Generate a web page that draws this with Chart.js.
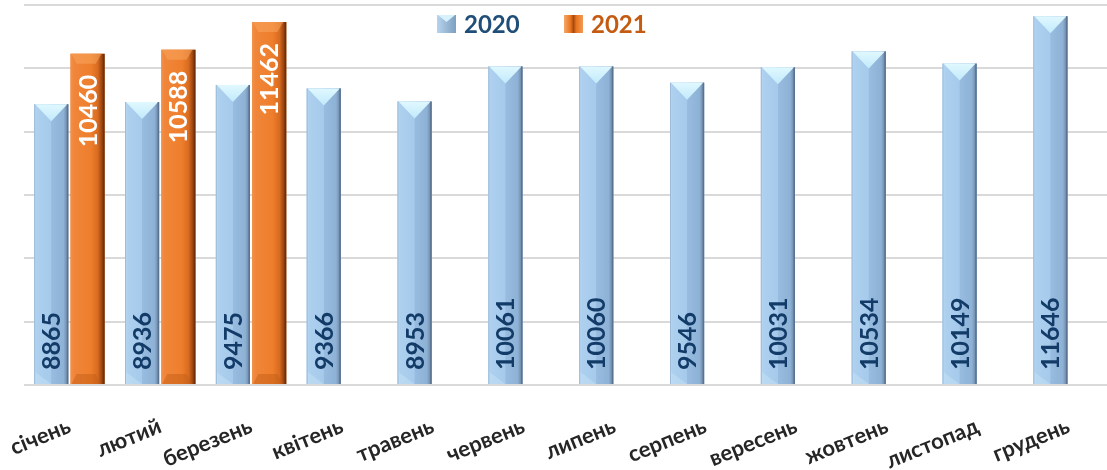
<!DOCTYPE html>
<html>
<head>
<meta charset="utf-8">
<script src="https://cdn.jsdelivr.net/npm/chart.js@4.4.1/dist/chart.umd.min.js"></script>
<style>
  html, body { margin: 0; padding: 0; background: #ffffff; overflow: hidden; }
  #wrap { position: relative; width: 1114px; height: 470px; }
</style>
</head>
<body>
<div id="wrap"><canvas id="c"></canvas></div>
<script>
const months = ['січень','лютий','березень','квітень','травень','червень','липень','серпень','вересень','жовтень','листопад','грудень'];
const series2020 = [8865, 8936, 9475, 9366, 8953, 10061, 10060, 9546, 10031, 10534, 10149, 11646];
const series2021 = [10460, 10588, 11462, null, null, null, null, null, null, null, null, null];
const seriesNames = ['2020', '2021'];
const yTicks = [0, 2000, 4000, 6000, 8000, 10000, 12000];

const FONT = 'Lato, "Open Sans", "DejaVu Sans", sans-serif';

function drawBlueBar(ctx, x0, x1, top, bottom) {
  const w = x1 - x0, cx = (x0 + x1) / 2;
  const g = ctx.createLinearGradient(x0, 0, x1, 0);
  g.addColorStop(0, '#BBD8F2');
  g.addColorStop(0.08, '#ADD0EF');
  g.addColorStop(0.49, '#A6CAEB');
  g.addColorStop(0.51, '#98BCE0');
  g.addColorStop(0.86, '#8EB2D6');
  g.addColorStop(1, '#687F9C');
  ctx.fillStyle = g;
  ctx.fillRect(x0, top, w, bottom - top);
  const d = Math.min(17, (bottom - top) / 2);
  const tg = ctx.createLinearGradient(0, top, 0, top + d);
  tg.addColorStop(0, '#E0F8FF');
  tg.addColorStop(1, '#C2EAFB');
  ctx.fillStyle = tg;
  ctx.beginPath();
  ctx.moveTo(x0 + 1, top);
  ctx.lineTo(x1 - 1, top);
  ctx.lineTo(cx, top + d);
  ctx.closePath();
  ctx.fill();
  ctx.fillStyle = 'rgba(215,238,252,0.3)';
  ctx.beginPath();
  ctx.moveTo(x0 + 1, bottom);
  ctx.lineTo(cx, bottom);
  ctx.lineTo(x0 + 1, bottom - 12);
  ctx.closePath();
  ctx.fill();
  ctx.fillStyle = 'rgba(85,110,140,0.8)';
  ctx.fillRect(x1 - 1.5, top, 1.5, bottom - top);
  ctx.fillStyle = 'rgba(140,170,200,0.6)';
  ctx.fillRect(x0, top, 1, bottom - top);
}

function drawOrangeBar(ctx, x0, x1, top, bottom) {
  const w = x1 - x0;
  const g = ctx.createLinearGradient(x0, 0, x1, 0);
  g.addColorStop(0, '#F2914A');
  g.addColorStop(0.1, '#F0863A');
  g.addColorStop(0.6, '#EE7E2C');
  g.addColorStop(0.8, '#D86B20');
  g.addColorStop(0.92, '#9A4512');
  g.addColorStop(1, '#5A2405');
  ctx.fillStyle = g;
  ctx.fillRect(x0, top, w, bottom - top);
  ctx.fillStyle = 'rgba(248,165,95,0.55)';
  ctx.beginPath();
  ctx.moveTo(x0 + 1, top);
  ctx.lineTo(x1 - 3, top);
  ctx.lineTo(x1 - 9, top + 10);
  ctx.lineTo(x0 + 6, top + 10);
  ctx.closePath();
  ctx.fill();
  ctx.fillStyle = 'rgba(190,90,20,0.45)';
  ctx.beginPath();
  ctx.moveTo(x0 + 1, bottom);
  ctx.lineTo(x1 - 3, bottom);
  ctx.lineTo(x1 - 9, bottom - 10);
  ctx.lineTo(x0 + 6, bottom - 10);
  ctx.closePath();
  ctx.fill();
}

function drawOrangeLegendBox(ctx, x0, x1, top, bottom) {
  const g = ctx.createLinearGradient(x0, 0, x1, 0);
  g.addColorStop(0, '#F7A86A');
  g.addColorStop(0.35, '#E8741F');
  g.addColorStop(0.5, '#A84A10');
  g.addColorStop(0.65, '#E8741F');
  g.addColorStop(1, '#F29A55');
  ctx.fillStyle = g;
  ctx.fillRect(x0, top, x1 - x0, bottom - top);
}

function drawBlueLegendBox(ctx, x0, x1, top, bottom) {
  const g = ctx.createLinearGradient(x0, 0, x1, 0);
  g.addColorStop(0, '#B6D4EE'); g.addColorStop(1, '#7E9FC0');
  ctx.fillStyle = g; ctx.fillRect(x0, top, x1 - x0, bottom - top);
  ctx.fillStyle = '#D7F2FD';
  ctx.beginPath(); ctx.moveTo(x0 + 1, top); ctx.lineTo(x1 - 1, top); ctx.lineTo((x0 + x1) / 2, top + 7); ctx.closePath(); ctx.fill();
}

const barStylePlugin = {
  id: 'barStyle',
  afterDatasetsDraw(chart) {
    const ctx = chart.ctx;
    ctx.save();
    chart.data.datasets.forEach((ds, di) => {
      const meta = chart.getDatasetMeta(di);
      meta.data.forEach((el, i) => {
        if (ds.data[i] == null) return;
        const p = el.getProps(['x', 'y', 'base', 'width'], true);
        const x0 = p.x - p.width / 2, x1 = p.x + p.width / 2;
        if (di === 0) drawBlueBar(ctx, x0, x1, p.y, p.base);
        else drawOrangeBar(ctx, x0, x1, p.y, p.base);
      });
    });
    ctx.font = 'bold 25px ' + FONT;
    ctx.textBaseline = 'middle';
    chart.data.datasets.forEach((ds, di) => {
      const meta = chart.getDatasetMeta(di);
      meta.data.forEach((el, i) => {
        const v = ds.data[i];
        if (v == null) return;
        const p = el.getProps(['x', 'y', 'base'], true);
        ctx.save();
        ctx.translate(p.x + 1, di === 0 ? p.base - 14 : p.y + 21);
        ctx.rotate(-Math.PI / 2);
        if (di === 0) {
          ctx.fillStyle = '#133B68';
          ctx.textAlign = 'left';
        } else {
          ctx.fillStyle = '#FFFFFF';
          ctx.textAlign = 'right';
        }
        ctx.fillText(String(v), 0, 0);
        ctx.restore();
      });
    });
    ctx.restore();
  },
  afterDraw(chart) {
    const ctx = chart.ctx;
    ctx.save();
    const items = [
      { text: seriesNames[0], box: 437, tx: 464, color: '#1F4E79', draw: drawBlueLegendBox },
      { text: seriesNames[1], box: 564, tx: 591, color: '#C55A11', draw: drawOrangeLegendBox }
    ];
    items.forEach(it => {
      it.draw(ctx, it.box, it.box + 19, 15, 33);
      ctx.fillStyle = it.color;
      ctx.font = 'bold 24px ' + FONT;
      ctx.textAlign = 'left';
      ctx.textBaseline = 'middle';
      ctx.fillText(it.text, it.tx, 25);
    });
    ctx.restore();
  }
};

new Chart(document.getElementById('c'), {
  type: 'bar',
  data: {
    labels: months,
    datasets: [
      { label: seriesNames[0], data: series2020, backgroundColor: '#A7CAEA', borderWidth: 0 },
      { label: seriesNames[1], data: series2021, backgroundColor: '#EF802E', borderWidth: 0 }
    ]
  },
  options: {
    responsive: true,
    maintainAspectRatio: false,
    animation: false,
    layout: { padding: { left: 24, right: 0, top: 5, bottom: 0 } },
    plugins: { legend: { display: false }, tooltip: { enabled: false } },
    datasets: { bar: { categoryPercentage: 0.8, barPercentage: 0.94 } },
    scales: {
      x: {
        grid: { display: false },
        border: { display: false },
        ticks: {
          color: '#262626',
          font: { family: FONT, size: 22, weight: 'bold' },
          minRotation: 22, maxRotation: 22,
          padding: 20
        },
        afterFit(s) { s.height = 85; s.paddingLeft = 0; s.paddingRight = 0; }
      },
      y: {
        min: yTicks[0], max: yTicks[yTicks.length - 1],
        afterBuildTicks(s) { s.ticks = yTicks.map(v => ({ value: v })); },
        ticks: { display: false },
        grid: { color: '#D9D9D9', lineWidth: 2, drawTicks: false },
        border: { display: false }
      }
    }
  },
  plugins: [barStylePlugin]
});
</script>
</body>
</html>
